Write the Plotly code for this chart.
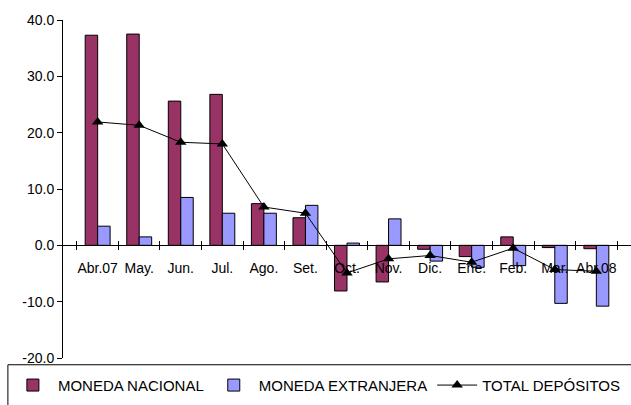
import plotly.graph_objects as go

meses = ["Abr.07", "May.", "Jun.", "Jul.", "Ago.", "Set.", "Oct.", "Nov.",
         "Dic.", "Ene.", "Feb.", "Mar.", "Abr.08"]
moneda_nacional = [37.3, 37.5, 25.6, 26.8, 7.4, 4.9, -8.1, -6.5, -0.7, -2.0, 1.5, -0.4, -0.6]
moneda_extranjera = [3.4, 1.5, 8.5, 5.7, 5.7, 7.1, 0.4, 4.7, -2.8, -3.9, -3.6, -10.3, -10.8]
total_depositos = [21.9, 21.3, 18.3, 18.0, 6.8, 5.7, -4.9, -2.4, -1.8, -3.0, -0.5, -4.3, -4.6]

y_ticks = [-20, -10, 0, 10, 20, 30, 40]
y_tick_text = ["-20.0", "-10.0", "0.0", "10.0", "20.0", "30.0", "40.0"]

font_base = dict(family="Liberation Sans, Arial, sans-serif", size=14, color="black")

fig = go.Figure()
fig.add_trace(go.Bar(
    x=meses, y=moneda_nacional, name="MONEDA NACIONAL",
    marker=dict(color="#993366", line=dict(color="black", width=1)),
))
fig.add_trace(go.Bar(
    x=meses, y=moneda_extranjera, name="MONEDA EXTRANJERA",
    marker=dict(color="#9999FF", line=dict(color="black", width=1)),
))
# la linea va en un eje x gemelo para poder dibujar los ticks hacia arriba
fig.add_trace(go.Scatter(
    x=meses, y=total_depositos, name="TOTAL DEPÓSITOS",
    xaxis="x2",
    mode="lines+markers",
    line=dict(color="black", width=1),
    marker=dict(symbol="triangle-up", size=10, color="black"),
))

# marco de la leyenda, se sale por abajo y por la derecha como en el original
fig.add_shape(
    type="rect", xref="paper", yref="paper",
    x0=-0.097, x1=1.02, y0=-0.25, y1=-0.02,
    line=dict(color="black", width=1), fillcolor="white", layer="below",
)

fig.update_layout(
    width=631, height=405,
    margin=dict(l=63, r=0, t=20, b=47),
    plot_bgcolor="white", paper_bgcolor="white",
    font=font_base,
    barmode="group", bargap=0.4, bargroupgap=0,
    showlegend=True,
    legend=dict(
        orientation="h", x=-0.097, xanchor="left", y=-0.032, yanchor="top",
        borderwidth=0, bgcolor="rgba(0,0,0,0)",
        font=dict(family=font_base["family"], size=15, color="black"),
        itemwidth=40,
    ),
    xaxis=dict(
        anchor="free", position=1/3, automargin=False,
        showline=True, linecolor="black", linewidth=1,
        ticks="outside", ticklen=4, tickcolor="black", tickson="boundaries",
        ticklabelstandoff=10,
        tickangle=0, showgrid=False, tickfont=font_base,
    ),
    xaxis2=dict(
        overlaying="x", matches="x", anchor="free", position=1/3, automargin=False,
        showline=False, ticks="inside", ticklen=4, tickcolor="black",
        tickson="boundaries", showticklabels=False, showgrid=False,
    ),
    yaxis=dict(
        range=[-20, 40], tickvals=y_ticks, ticktext=y_tick_text, automargin=False,
        showline=True, linecolor="black", linewidth=1,
        ticks="outside", ticklen=5, tickcolor="black",
        showgrid=False, zeroline=False, tickfont=font_base,
    ),
)

fig.write_html("out.html", config={"displayModeBar": False},
               post_script="document.body.style.margin='0';")
